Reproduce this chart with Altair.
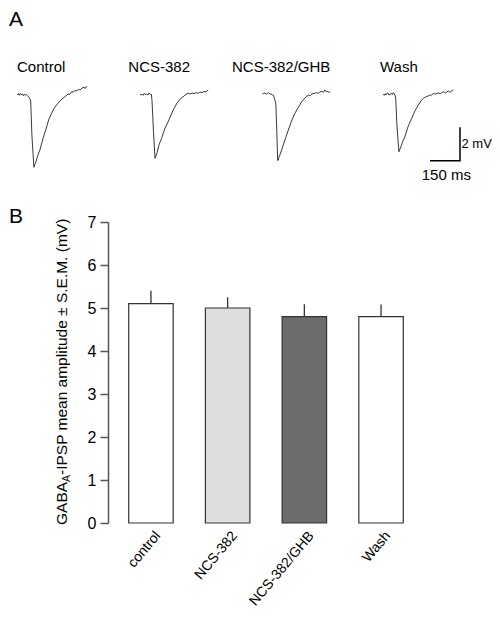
import altair as alt
import pandas as pd

FONT = "Liberation Sans"

# ---- Panel B data ----
conditions = ["control", "NCS-382", "NCS-382/GHB", "Wash"]
means = [5.1, 5.0, 4.8, 4.8]
sems = [0.30, 0.25, 0.29, 0.28]
bar_fills = ["#ffffff", "#dedede", "#6c6c6c", "#ffffff"]

# ---- Panel A data: example IPSP traces (time ms, mV relative to baseline) ----
trace_names = ["Control", "NCS-382", "NCS-382/GHB", "Wash"]
trace_control = [(0, 0.00), (5, 0.08), (10, -0.02), (15, 0.10), (20, 0.02), (25, 0.06), (30, -0.04),
                 (35, 0.05), (40, -0.02), (45, 0.04), (50, -0.03), (55, -0.09), (60, -0.18), (64, -0.26),
                 (67, -0.36), (73, -2.40), (83, -4.33), (93, -4.00), (103, -3.60), (113, -3.29),
                 (128, -2.63), (147, -1.90), (158, -1.44), (172, -1.08), (188, -0.72), (205, -0.48),
                 (218, -0.30), (230, -0.18), (238, -0.10), (246, -0.02), (254, 0.06), (262, 0.02),
                 (272, 0.20), (280, 0.16), (288, 0.27), (297, 0.24), (305, 0.34), (314, 0.30),
                 (323, 0.42), (333, 0.46), (340, 0.40), (347, 0.54)]
trace_ncs = [(0, 0.06), (5, 0.00), (10, 0.04), (15, -0.02), (20, 0.09), (27, 0.03), (33, 0.06),
             (40, 0.00), (45, 0.12), (52, 0.04), (57, 0.03), (60, -0.34), (67, -2.10), (75, -3.79),
             (85, -3.47), (95, -2.99), (108, -2.59), (125, -1.98), (141, -1.60), (155, -1.20),
             (166, -0.90), (185, -0.48), (200, -0.26), (210, -0.15), (220, -0.06), (230, 0.04),
             (241, 0.10), (250, 0.06), (260, 0.12), (270, 0.09), (283, 0.14), (292, 0.10),
             (300, 0.18), (310, 0.14), (320, 0.21), (330, 0.18), (341, 0.30)]
trace_ghb = [(0, 0.06), (6, 0.10), (13, 0.12), (20, 0.05), (30, 0.14), (37, 0.08), (43, 0.06),
             (50, 0.02), (55, 0.00), (63, -0.30), (68, -0.54), (73, -2.40), (77, -3.93), (86, -3.65),
             (97, -3.29), (113, -2.69), (130, -2.10), (146, -1.56), (163, -1.10), (181, -0.72),
             (197, -0.40), (213, -0.18), (230, 0.00), (240, -0.04), (248, 0.06), (260, 0.10),
             (272, 0.14), (280, 0.10), (288, 0.18), (300, 0.22), (306, 0.16), (313, 0.30),
             (320, 0.20), (328, 0.21), (338, 0.14)]
trace_wash = [(0, 0.06), (5, -0.02), (10, 0.08), (13, 0.00), (18, 0.10), (23, 0.12), (28, 0.00),
              (33, 0.03), (40, 0.10), (45, 0.02), (50, 0.14), (55, 0.06), (58, 0.00), (62, -0.18),
              (68, -1.80), (78, -3.40), (88, -3.11), (98, -2.75), (108, -2.50), (123, -1.92),
              (142, -1.40), (158, -0.96), (175, -0.60), (188, -0.36), (200, -0.20), (210, -0.12),
              (218, -0.09), (230, -0.02), (242, 0.00), (250, 0.08), (263, 0.06), (275, 0.12),
              (285, 0.08), (292, 0.14), (300, 0.20), (310, 0.12), (318, 0.18), (326, 0.24),
              (335, 0.16), (342, 0.26), (350, 0.30)]
traces = [trace_control, trace_ncs, trace_ghb, trace_wash]

# scale bar: 150 ms horizontal, 2 mV vertical
scale_t = [0, 150, 150]
scale_v = [-3.93, -3.93, -1.93]

# ---- tables ----
bar_df = pd.DataFrame({"cond": conditions, "mean": means,
                       "top": [m + s for m, s in zip(means, sems)]})
rows = []
for name, tr in zip(trace_names, traces):
    for i, (t, v) in enumerate(tr):
        rows.append({"name": name, "t": t, "v": v, "i": i})
trace_df = pd.DataFrame(rows)
scale_df = pd.DataFrame({"t": scale_t, "v": scale_v, "i": list(range(len(scale_t)))})
one = pd.DataFrame({"k": [0]})

# ---- Panel B ----
xscale = alt.Scale(domain=conditions, paddingInner=0.42, paddingOuter=0.27)
bars = alt.Chart(bar_df).mark_bar(stroke="#333", strokeWidth=1.2).encode(
    x=alt.X("cond:N", sort=conditions, scale=xscale,
            axis=alt.Axis(title=None, labelAngle=-50, labelFontSize=14, labelFont=FONT,
                          labelColor="black", domain=False, ticks=False, tickSize=0,
                          labelPadding=10, labelOffset=7)),
    y=alt.Y("mean:Q", scale=alt.Scale(domain=[0, 7]),
            axis=alt.Axis(title=None, values=list(range(8)), grid=False, domainColor="#555",
                          domainWidth=1.5, tickColor="#555", tickWidth=1.5, tickSize=8,
                          labelFontSize=16, labelFont=FONT, labelColor="black", labelPadding=4)),
    fill=alt.Fill("cond:N", scale=alt.Scale(domain=conditions, range=bar_fills), legend=None),
)
err = alt.Chart(bar_df).mark_rule(color="#333", strokeWidth=1.3).encode(
    x=alt.X("cond:N", sort=conditions, scale=xscale),
    y=alt.Y("mean:Q", scale=alt.Scale(domain=[0, 7])),
    y2="top:Q",
)
panel_b = alt.layer(bars, err)

# ---- Panel A ----
trace_x0 = [-90.7, 32.0, 154.3, 275.3]
yscale_tr = alt.Scale(domain=[-5, 1], range=[-43.5, -143.7])
trace_layers = []
for name, x0 in zip(trace_names, trace_x0):
    trace_layers.append(
        alt.Chart(trace_df).transform_filter(alt.datum.name == name)
        .mark_line(color="#222", strokeWidth=0.9)
        .encode(x=alt.X("t:Q", scale=alt.Scale(domain=[0, 350], range=[x0, x0 + 70]), axis=None),
                y=alt.Y("v:Q", scale=yscale_tr, axis=None),
                order="i:Q")
    )
scalebar = alt.Chart(scale_df).mark_line(color="black", strokeWidth=1.5).encode(
    x=alt.X("t:Q", scale=alt.Scale(domain=[0, 150], range=[322, 352]), axis=None),
    y=alt.Y("v:Q", scale=yscale_tr, axis=None),
    order="i:Q",
)


def txt(s, x, y, size=15, angle=0):
    return alt.Chart(one).mark_text(text=s, fontSize=size, font=FONT, align="left",
                                    baseline="alphabetic", angle=angle, color="black").encode(
        x=alt.value(x), y=alt.value(y))


label_x = [-91, 20.3, 124, 272]
texts = [txt(n, x, -150) for n, x in zip(trace_names, label_x)]
texts += [
    txt("A", -99, -196, size=21),
    txt("B", -99, 1, size=21),
    txt("2 mV", 353.5, -74, size=13),
    txt("150 ms", 313.7, -42),
    txt("GABA", -41, 303, size=15.5, angle=270),
    txt("A", -38, 260, size=10.5, angle=270),
    txt("-IPSP mean amplitude ± S.E.M. (mV)", -41, 253, size=15.5, angle=270),
]

chart = alt.layer(panel_b, *trace_layers, scalebar, *texts).resolve_scale(
    x="independent", y="independent"
).properties(
    width=316, height=301,
    padding={"left": 100, "top": 214, "right": 68, "bottom": 88},
    autosize=alt.AutoSizeParams(type="none"),
).configure_view(stroke=None)

chart.save("out.html", embed_options={"renderer": "svg", "actions": False})
